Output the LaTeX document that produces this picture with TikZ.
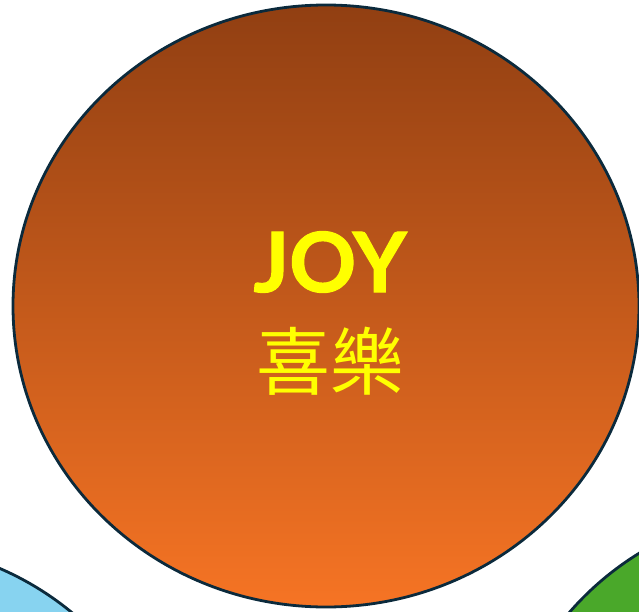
\documentclass[tikz,border=0pt]{standalone}
\usepackage{fontspec}
\newfontfamily\joyfont{Lato Bold}[FakeBold=1.3]
\newfontfamily\cjkfont{Noto Sans CJK TC}
\definecolor{edge}{HTML}{0B2A3C}
\definecolor{toporange}{RGB}{145,63,18}
\definecolor{botorange}{RGB}{246,116,36}
\definecolor{skyblue}{RGB}{135,211,240}
\definecolor{leafgreen}{RGB}{74,168,42}
\definecolor{joyyellow}{RGB}{255,255,0}
\tikzset{
  bubble/.style={draw=edge, line width=2.8pt},
  title/.style={text=joyyellow, inner sep=0pt, anchor=base}
}
\begin{document}
\begin{tikzpicture}[x=1pt,y=-1pt]
\useasboundingbox (0,0) rectangle (639,612);
\begin{scope}
\clip (0,0) rectangle (639,612);
\path[bubble, fill=skyblue] (-119,844) circle [radius=300pt];
\path[bubble, fill=leafgreen] (796,809) circle [radius=300pt];
\path[bubble, top color=toporange, bottom color=botorange] (326,306) ellipse [x radius=313pt, y radius=301pt];
\end{scope}
\node[title, font=\joyfont\fontsize{83}{83}\selectfont] (joy) at (330,292) {JOY};
\node[title, font=\cjkfont\fontsize{74}{74}\selectfont] (cjk) at (330,389) {喜樂};
\end{tikzpicture}
\end{document}
